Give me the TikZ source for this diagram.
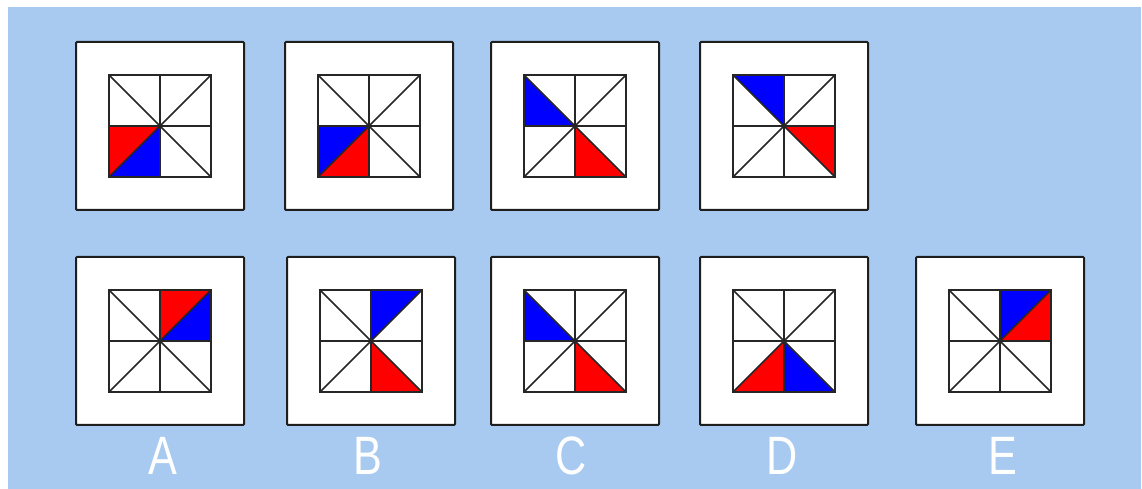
\documentclass[tikz,border=0pt]{standalone}
\usepackage{fontspec}
\setmainfont{Liberation Sans}
\definecolor{bg}{RGB}{168,202,240}
\definecolor{myred}{RGB}{255,0,0}
\definecolor{myblue}{RGB}{0,0,255}
\definecolor{edge}{RGB}{30,30,30}
\tikzset{
  panelbox/.style={draw=edge, line width=2pt, fill=white, rounded corners=1pt,
    minimum width=168pt, minimum height=168pt, inner sep=0pt, outer sep=0pt},
  gridline/.style={draw=black!85, line width=1.6pt},
  letter/.style={text=white, anchor=base, inner sep=0pt,
    font=\fontsize{54}{54}\selectfont, xscale=0.8}
}
\newcommand\puzzle[3]{%
  \node[panelbox] (#1) at (#2) {};
  \begin{scope}[shift={(#1.center)}]
    \coordinate (#1-0) at (0,51);
    \coordinate (#1-1) at (51,51);
    \coordinate (#1-2) at (51,0);
    \coordinate (#1-3) at (51,-51);
    \coordinate (#1-4) at (0,-51);
    \coordinate (#1-5) at (-51,-51);
    \coordinate (#1-6) at (-51,0);
    \coordinate (#1-7) at (-51,51);
    \coordinate (#1-o) at (0,0);
    \foreach \a/\b/\c in {#3} {\fill[\c] (#1-o) -- (#1-\a) -- (#1-\b) -- cycle;}
    \draw[gridline] (#1-5) rectangle (#1-1);
    \draw[gridline] (#1-6) -- (#1-2) (#1-4) -- (#1-0) (#1-5) -- (#1-1) (#1-7) -- (#1-3);
  \end{scope}}
\begin{document}
\begin{tikzpicture}[x=1pt,y=1pt]
\useasboundingbox (0,0) rectangle (1142,489);
\fill[bg] (8,0) rectangle (1141,482);
% top row
\puzzle{p1}{160,363}{5/6/myred,4/5/myblue}
\puzzle{p2}{369,363}{5/6/myblue,4/5/myred}
\puzzle{p3}{575,363}{6/7/myblue,3/4/myred}
\puzzle{p4}{784,363}{7/0/myblue,2/3/myred}
% answers
\puzzle{pA}{160,148}{0/1/myred,1/2/myblue}
\puzzle{pB}{371,148}{0/1/myblue,3/4/myred}
\puzzle{pC}{575,148}{6/7/myblue,3/4/myred}
\puzzle{pD}{784,148}{4/5/myred,3/4/myblue}
\puzzle{pE}{1000,148}{0/1/myblue,1/2/myred}
\node[letter] (lA) at (163,14) {A};
\node[letter] (lB) at (368,14) {B};
\node[letter] (lC) at (571,14) {C};
\node[letter] (lD) at (782,14) {D};
\node[letter] (lE) at (1003,14) {E};
\end{tikzpicture}
\end{document}
